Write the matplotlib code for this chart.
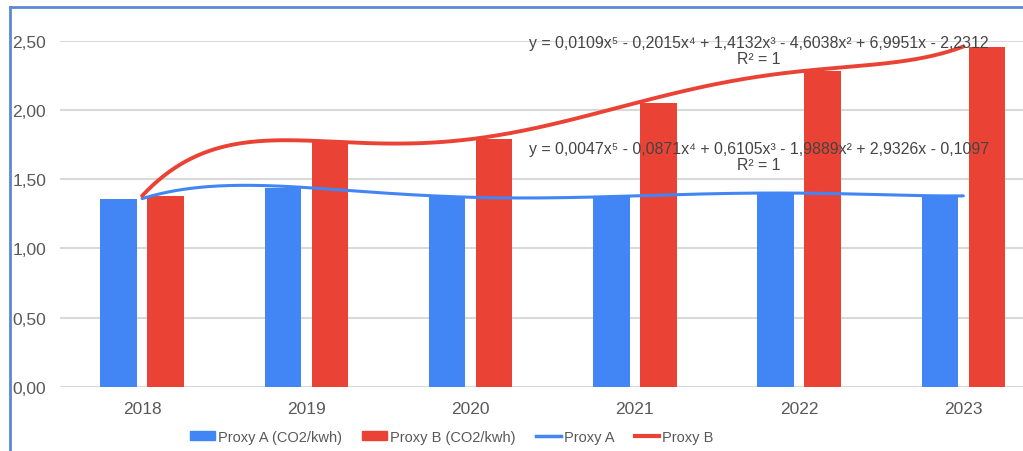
import numpy as np
import matplotlib
matplotlib.use("Agg")
import matplotlib.pyplot as plt
from matplotlib.lines import Line2D
from matplotlib.patches import Patch

plt.rcParams['font.family'] = ['Liberation Sans', 'DejaVu Sans']

# -----------------------------
# DATA
# -----------------------------
years = ['2018', '2019', '2020', '2021', '2022', '2023']
proxy_a = [1.36, 1.44, 1.37, 1.38, 1.40, 1.38]
proxy_b = [1.38, 1.78, 1.79, 2.05, 2.28, 2.46]
y_ticks = [0.0, 0.5, 1.0, 1.5, 2.0, 2.5]

eq_b = "y = 0,0109x⁵ - 0,2015x⁴ + 1,4132x³ - 4,6038x² + 6,9951x - 2,2312\nR² = 1"
eq_a = "y = 0,0047x⁵ - 0,0871x⁴ + 0,6105x³ - 1,9889x² + 2,9326x - 0,1097\nR² = 1"

BLUE = '#4285F4'
RED = '#EA4335'
TEXT = '#595959'
GRID = '#d9d9d9'

# -----------------------------
# FIGURE
# -----------------------------
fig = plt.figure(figsize=(10.23, 4.52), dpi=100)
ax = fig.add_axes([60 / 1023, 64.3 / 452, 1 - 60 / 1023, (410 - 64.3) / 452])

x = np.arange(len(years))
w = 0.222
off = 0.143
ax.bar(x - off, proxy_a, width=w, color=BLUE, zorder=2)
ax.bar(x + off, proxy_b, width=w, color=RED, zorder=2)

# polynomial trendlines (order 5, x = 1..n like the spreadsheet)
t = x + 1
tt = np.linspace(1, len(years), 300)
fit_a = np.polyval(np.polyfit(t, proxy_a, 5), tt)
fit_b = np.polyval(np.polyfit(t, proxy_b, 5), tt)
ax.plot(tt - 1, fit_a, color=BLUE, lw=2.2, solid_capstyle='round', zorder=4)
ax.plot(tt - 1, fit_b, color=RED, lw=2.8, solid_capstyle='round', zorder=4)

ax.text(3.756, 2.43, eq_b, ha='center', va='center', fontsize=11.4,
        color='#444444', linespacing=1.05, zorder=5, clip_on=False)
ax.text(3.756, 1.665, eq_a, ha='center', va='center', fontsize=11.4,
        color='#444444', linespacing=1.05, zorder=5, clip_on=False)

ax.set_xlim(-0.5, (1023 - 142) / 164.26)
ax.set_ylim(0, 2.5)
ax.set_yticks(y_ticks)
ax.set_yticklabels([f"{v:.2f}".replace('.', ',') for v in y_ticks])
ax.set_xticks(x)
ax.set_xticklabels(years)
ax.tick_params(axis='both', length=0, labelsize=12.5, colors=TEXT)
ax.tick_params(axis='x', pad=10)
ax.tick_params(axis='y', pad=10)
ax.grid(axis='y', color=GRID, lw=1.5, zorder=0)
ax.set_axisbelow(True)
for s in ax.spines.values():
    s.set_visible(False)

handles = [
    Patch(color=BLUE, label='Proxy A (CO2/kwh)'),
    Patch(color=RED, label='Proxy B (CO2/kwh)'),
    Line2D([0], [0], color=BLUE, lw=2.5, label='Proxy A'),
    Line2D([0], [0], color=RED, lw=3, label='Proxy B'),
]
leg = fig.legend(handles=handles, loc='center', ncol=4, frameon=False,
                 bbox_to_anchor=(452 / 1023, 14 / 452), fontsize=10.5,
                 handlelength=1.7, handleheight=0.6, handletextpad=0.2,
                 columnspacing=1.4)
for txt in leg.get_texts():
    txt.set_color(TEXT)

# screenshot frame (top and left edges)
fig.add_artist(Line2D([10 / 1023, 10 / 1023], [0, 1 - 8 / 452], color='#5a8ad0',
                      lw=2, transform=fig.transFigure))
fig.add_artist(Line2D([10 / 1023, 1], [1 - 8 / 452, 1 - 8 / 452], color='#5a8ad0',
                      lw=2, transform=fig.transFigure))

fig.savefig('out.png', dpi=100)
